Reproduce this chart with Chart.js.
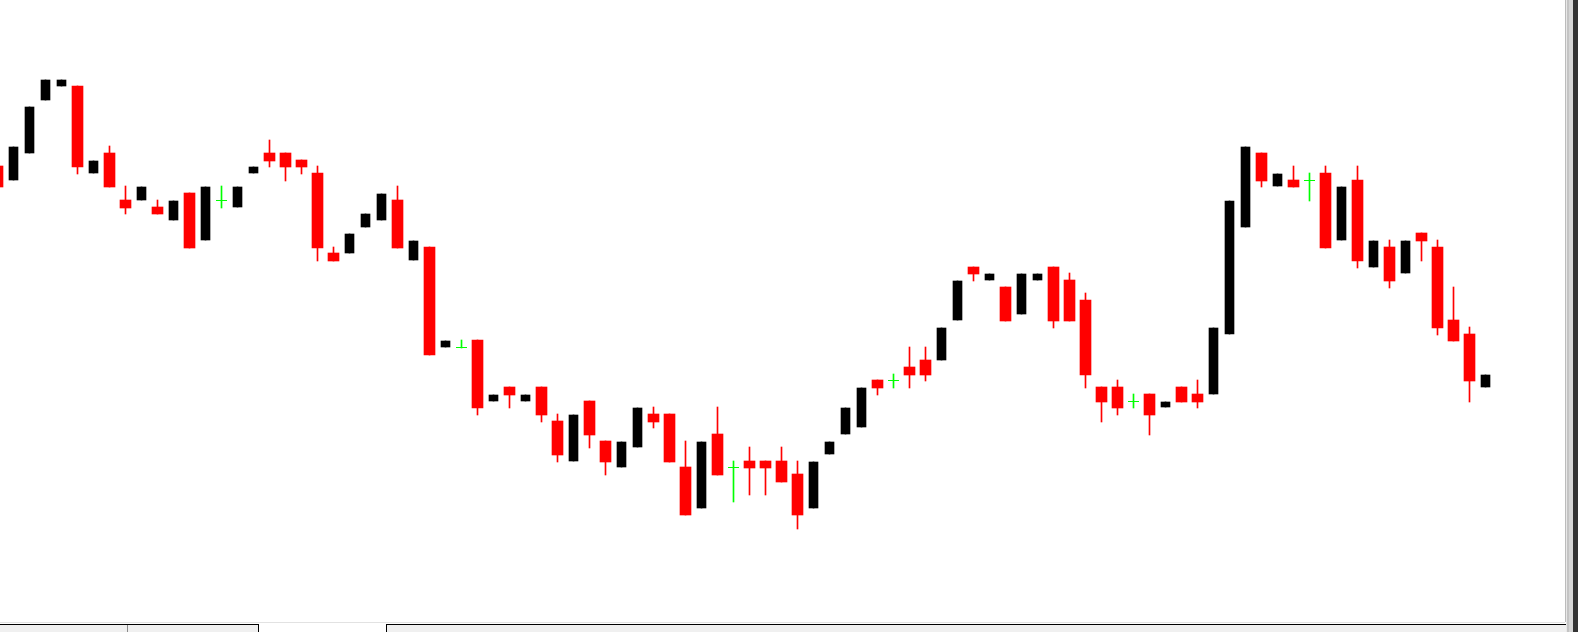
<!DOCTYPE html>
<html>
<head>
<meta charset="utf-8">
<title>Candles</title>
<script src="https://cdn.jsdelivr.net/npm/chart.js@4.4.1/dist/chart.umd.min.js"></script>
<style>
    html, body { margin: 0; padding: 0; background: #fff; overflow: hidden; }
    #frame { position: relative; width: 1578px; height: 632px; background: #fff; }
    #plot { position: absolute; left: 0; top: 0; width: 1565px; height: 622px; background: #fff; }
    .px { position: absolute; }
</style>
</head>
<body>
<div id="frame">
    <div id="plot"><canvas id="chartCanvas"></canvas></div>

    <!-- right edge / scroll strip -->
    <div class="px" style="left:1565px;top:0;width:1px;height:622px;background:#bcbcbc"></div>
    <div class="px" style="left:1566px;top:0;width:1px;height:632px;background:#e8e8e8"></div>
    <div class="px" style="left:1567px;top:0;width:2px;height:632px;background:#c4c4c4"></div>
    <div class="px" style="left:1569px;top:0;width:4px;height:632px;background:#d6d6d6"></div>
    <div class="px" style="left:1573px;top:0;width:5px;height:632px;background:#333333"></div>

    <!-- bottom tab strip -->
    <div class="px" style="left:0;top:622px;width:1565px;height:1px;background:#e2e2e2"></div>
    <div class="px" style="left:0;top:624px;width:258px;height:8px;background:#f0f0f0;border-top:1px solid #000;border-right:1px solid #000"></div>
    <div class="px" style="left:127px;top:625px;width:1px;height:7px;background:#8a8a8a"></div>
    <div class="px" style="left:386px;top:624px;width:1179px;height:8px;background:#f0f0f0;border-top:1px solid #000;border-left:1px solid #000"></div>
</div>

<script>
"use strict";

// one bar per period, oldest first (open / high / low / close)
const opens = [
    1.3334, 1.3320, 1.3347, 1.3400, 1.3414, 1.3414, 1.3327, 1.3347, 1.3300, 1.3300,
    1.3293, 1.3280, 1.3307, 1.3260, 1.32995, 1.3293, 1.3327, 1.3347, 1.3347, 1.3340,
    1.3327, 1.3247, 1.3247, 1.3273, 1.3280, 1.3300, 1.3240, 1.3253, 1.3153, 1.31525,
    1.3160, 1.3099, 1.3113, 1.3099, 1.3113, 1.3079, 1.3039, 1.3099, 1.3059, 1.3033,
    1.3053, 1.3086, 1.3086, 1.3033, 1.2992, 1.3066, 1.30325, 1.3039, 1.3039, 1.3039,
    1.3026, 1.2992, 1.3046, 1.3066, 1.3073, 1.3120, 1.31195, 1.3133, 1.3140, 1.3140,
    1.3180, 1.3233, 1.3220, 1.3213, 1.3186, 1.3220, 1.3233, 1.3220, 1.3200, 1.3113,
    1.3113, 1.30985, 1.3106, 1.3093, 1.3113, 1.3106, 1.3106, 1.3166, 1.3273, 1.3347,
    1.3314, 1.3320, 1.33195, 1.3327, 1.3260, 1.3320, 1.3233, 1.3253, 1.3227, 1.3267,
    1.3253, 1.3180, 1.3166, 1.3113
];
const highs = [
    1.3334, 1.3353, 1.3393, 1.3420, 1.3420, 1.3414, 1.3339, 1.3354, 1.3314, 1.3313,
    1.3300, 1.3299, 1.3307, 1.3313, 1.3314, 1.3313, 1.3333, 1.3360, 1.3347, 1.3340,
    1.3334, 1.3253, 1.3266, 1.3286, 1.3306, 1.3314, 1.3259, 1.3253, 1.3159, 1.3160,
    1.3160, 1.3105, 1.3113, 1.3105, 1.3113, 1.3086, 1.3085, 1.3099, 1.3059, 1.3058,
    1.3092, 1.3093, 1.3086, 1.3059, 1.3058, 1.3093, 1.3039, 1.3053, 1.3039, 1.3053,
    1.3039, 1.3038, 1.3058, 1.3092, 1.3112, 1.3120, 1.3126, 1.3153, 1.3153, 1.3172,
    1.3219, 1.3233, 1.3226, 1.3213, 1.3226, 1.3226, 1.3233, 1.3227, 1.3207, 1.3113,
    1.3120, 1.3106, 1.3106, 1.3098, 1.3113, 1.3120, 1.3172, 1.3299, 1.3353, 1.3347,
    1.3326, 1.3334, 1.3327, 1.3334, 1.3313, 1.3334, 1.3259, 1.3260, 1.3259, 1.3267,
    1.3260, 1.3213, 1.3173, 1.3125
];
const lows = [
    1.3313, 1.3320, 1.3347, 1.3400, 1.3414, 1.3326, 1.3327, 1.3313, 1.3286, 1.3300,
    1.3286, 1.3280, 1.3252, 1.3260, 1.3292, 1.3293, 1.3327, 1.3333, 1.3319, 1.3326,
    1.3239, 1.3239, 1.3247, 1.3273, 1.3280, 1.3252, 1.3240, 1.3145, 1.3153, 1.3152,
    1.3085, 1.3099, 1.3092, 1.3099, 1.3078, 1.3038, 1.3039, 1.3052, 1.3025, 1.3033,
    1.3053, 1.3072, 1.3038, 1.2985, 1.2992, 1.3025, 1.2998, 1.3005, 1.3005, 1.3018,
    1.2971, 1.2992, 1.3046, 1.3066, 1.3073, 1.3105, 1.3112, 1.3112, 1.3119, 1.3140,
    1.3180, 1.3219, 1.3220, 1.3179, 1.3186, 1.3220, 1.3172, 1.3179, 1.3112, 1.3078,
    1.3085, 1.3092, 1.3065, 1.3093, 1.3098, 1.3092, 1.3106, 1.3166, 1.3273, 1.3313,
    1.3314, 1.3313, 1.3299, 1.3252, 1.3260, 1.3232, 1.3233, 1.3212, 1.3227, 1.3239,
    1.3165, 1.3159, 1.3098, 1.3113
];
const closes = [
    1.3313, 1.3353, 1.3393, 1.3420, 1.3420, 1.3333, 1.3339, 1.3313, 1.3292, 1.3313,
    1.3286, 1.3299, 1.3252, 1.3313, 1.32995, 1.3313, 1.3333, 1.3339, 1.3333, 1.3333,
    1.3252, 1.3239, 1.3266, 1.3286, 1.3306, 1.3252, 1.3259, 1.3145, 1.3159, 1.31525,
    1.3092, 1.3105, 1.3105, 1.3105, 1.3085, 1.3045, 1.3085, 1.3065, 1.3038, 1.3058,
    1.3092, 1.3078, 1.3038, 1.2985, 1.3058, 1.3025, 1.30325, 1.3032, 1.3032, 1.3018,
    1.2985, 1.3038, 1.3058, 1.3092, 1.3112, 1.3112, 1.31195, 1.3125, 1.3125, 1.3172,
    1.3219, 1.3226, 1.3226, 1.3179, 1.3226, 1.3226, 1.3179, 1.3179, 1.3125, 1.3098,
    1.3092, 1.30985, 1.3085, 1.3098, 1.3098, 1.3098, 1.3172, 1.3299, 1.3353, 1.3319,
    1.3326, 1.3313, 1.33195, 1.3252, 1.3313, 1.3239, 1.3259, 1.3219, 1.3259, 1.3259,
    1.3172, 1.3159, 1.3119, 1.3125
];
const barIndex = opens.map((v, i) => i);

const bearWicks = [], bearBodies = [], bullWicks = [], bullBodies = [], dojiWicks = [], dojiMarks = [];
barIndex.forEach(function (i) {
    const o = opens[i], h = highs[i], l = lows[i], c = closes[i];
    if (c < o) {
        bearWicks.push({ x: i, y: [l, h] });
        bearBodies.push({ x: i, y: [c, o] });
    } else if (c > o) {
        bullWicks.push({ x: i, y: [l, h] });
        bullBodies.push({ x: i, y: [o, c] });
    } else {
        dojiWicks.push({ x: i, y: [l, h] });
        dojiMarks.push({ x: i, y: c });
    }
});

const ctx = document.getElementById('chartCanvas');

new Chart(ctx, {
    type: 'bar',
    data: {
        datasets: [
            { label: 'down wick', data: bearWicks, backgroundColor: '#ff0000', barThickness: 1 },
            { label: 'down', data: bearBodies, backgroundColor: '#ff0000', barThickness: 11 },
            { label: 'up wick', data: bullWicks, backgroundColor: '#000000', barThickness: 1 },
            { label: 'up', data: bullBodies, backgroundColor: '#000000', barThickness: 9 },
            { label: 'doji wick', data: dojiWicks, backgroundColor: '#00ff00', barThickness: 1 },
            {
                type: 'line', label: 'doji', data: dojiMarks, showLine: false, clip: false,
                pointStyle: 'line', pointRadius: 5.5, pointHoverRadius: 5.5,
                pointBorderColor: '#00ff00', pointBorderWidth: 1, pointBackgroundColor: '#00ff00'
            }
        ]
    },
    options: {
        responsive: true,
        maintainAspectRatio: false,
        animation: false,
        devicePixelRatio: 1,
        events: [],
        layout: { padding: 0, autoPadding: false },
        datasets: { bar: { grouped: false, borderWidth: 0 } },
        plugins: { legend: { display: false }, tooltip: { enabled: false } },
        scales: {
            x: { type: 'linear', display: false, offset: false, bounds: 'data', min: 0.15625, max: 97.96875 },
            y: { display: false, beginAtZero: false, bounds: 'data', min: 1.2878, max: 1.35 }
        }
    }
});
</script>
</body>
</html>
